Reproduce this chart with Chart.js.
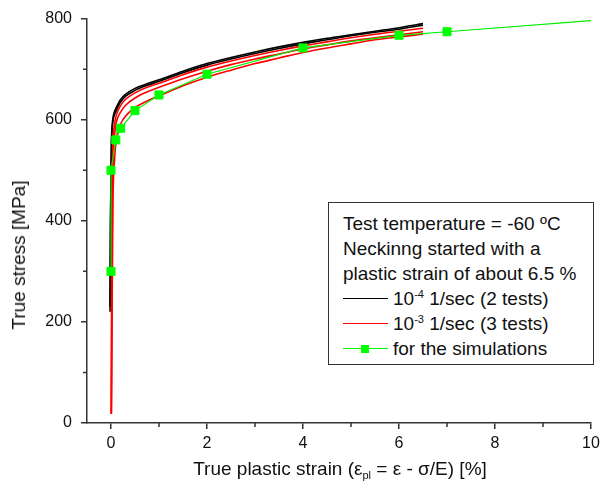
<!DOCTYPE html>
<html>
<head>
<meta charset="utf-8">
<script src="https://cdn.jsdelivr.net/npm/chart.js@4/dist/chart.umd.min.js"></script>
<style>
  html, body { margin: 0; padding: 0; background: #fff; }
  #wrap { position: relative; width: 600px; height: 485px; font-family: "Liberation Sans", Arial, sans-serif; color: #111; }
  canvas { position: absolute; left: 0; top: 0; }
  .ytitle { position: absolute; left: 19px; top: 255px; transform: translate(-50%, -50%) rotate(-90deg); white-space: nowrap; font-size: 19px; }
  .xtitle { position: absolute; left: 340px; top: 469px; transform: translate(-50%, -50%); white-space: nowrap; font-size: 19px; }
  .xtitle sub { font-size: 11px; vertical-align: -4px; line-height: 0; }
  #legend { position: absolute; left: 328px; top: 202px; width: 266px; height: 163px; border: 1px solid #333; box-sizing: border-box; background: #fff; padding: 8px 0 0 14px; font-size: 19px; line-height: 25px; white-space: nowrap; }
  #legend .row { height: 25px; display: flex; align-items: center; }
  #legend .sample { position: relative; width: 45px; height: 10px; margin-right: 5px; flex: none; }
  #legend .sample .ln { position: absolute; left: 0; right: 0; top: 4px; height: 1px; }
  #legend .sample .sq { position: absolute; left: 18px; top: 1px; width: 8px; height: 8px; background: #00ff00; }
  #legend sup { font-size: 11px; vertical-align: 7px; line-height: 0; }
</style>
</head>
<body>
<div id="wrap">
  <canvas id="c" width="600" height="485"></canvas>
  <div class="ytitle">True stress [MPa]</div>
  <div class="xtitle">True plastic strain (ε<sub>pl</sub> = ε - σ/E) [%]</div>
  <div id="legend">
    <div class="row">Test temperature = -60 ºC</div>
    <div class="row">Neckinng started with a</div>
    <div class="row">plastic strain of about 6.5 %</div>
    <div class="row"><span class="sample"><span class="ln" style="background:#000"></span></span><span>10<sup>-4</sup> 1/sec (2 tests)</span></div>
    <div class="row"><span class="sample"><span class="ln" style="background:#ff0000"></span></span><span>10<sup>-3</sup> 1/sec (3 tests)</span></div>
    <div class="row"><span class="sample"><span class="ln" style="background:#00ff00"></span><span class="sq"></span></span><span>for the simulations</span></div>
  </div>
</div>
<script>
// ---- data ----
const strainBlack1 = [-0.02, -0.01, 0, 0.01, 0.03, 0.06, 0.1, 0.15, 0.2, 0.3, 0.5, 0.75, 1, 1.5, 2, 2.5, 3, 3.5, 4, 4.5, 5, 5.5, 6, 6.5];
const stressBlack1 = [220, 400, 500, 560, 595, 612, 622, 632, 640, 650, 662, 671, 679, 696, 711, 723, 734, 744, 753, 761, 768, 775, 782, 790];
const strainBlack2 = [-0.02, -0.01, 0, 0.01, 0.03, 0.06, 0.1, 0.15, 0.2, 0.3, 0.5, 0.75, 1, 1.5, 2, 2.5, 3, 3.5, 4, 4.5, 5, 5.5, 6, 6.5];
const stressBlack2 = [230, 390, 490, 550, 588, 606, 616, 627, 635, 646, 658, 668, 676, 693, 708, 720, 731, 741, 750, 758, 766, 773, 779, 787];
const strainRed1 = [0.005, 0.015, 0.025, 0.045, 0.08, 0.12, 0.2, 0.3, 0.5, 0.75, 1, 1.5, 2, 2.5, 3, 3.5, 4, 4.5, 5, 5.5, 6, 6.5];
const stressRed1 = [18, 300, 480, 560, 595, 612, 628, 640, 653, 664, 672, 689, 704, 716, 727, 737, 746, 754, 762, 769, 775, 781];
const strainRed2 = [0.005, 0.02, 0.03, 0.05, 0.08, 0.12, 0.2, 0.3, 0.5, 0.75, 1, 1.5, 2, 2.5, 3, 3.5, 4, 4.5, 5, 5.5, 6, 6.5];
const stressRed2 = [18, 280, 440, 530, 575, 598, 615, 628, 643, 655, 664, 681, 696, 709, 720, 730, 740, 748, 756, 762, 768, 774];
const strainRed3 = [0.01, 0.025, 0.04, 0.07, 0.11, 0.17, 0.25, 0.35, 0.5, 0.75, 1, 1.5, 2, 2.5, 3, 3.5, 4, 4.5, 5, 5.5, 6, 6.5];
const stressRed3 = [18, 250, 430, 515, 560, 585, 600, 612, 624, 637, 647, 667, 684, 698, 711, 722, 733, 742, 750, 758, 764, 769];
const strainSim = [0, 0, 0.1, 0.2, 0.5, 1, 2, 4, 6, 7, 10];
const stressSim = [300, 500, 560, 583, 618, 649, 690, 742, 767, 774, 796];
const xMajorTicks = [0, 2, 4, 6, 8, 10];
const xMinorTicks = [1, 3, 5, 7, 9];
const yMajorTicks = [0, 200, 400, 600, 800];
const yMinorTicks = [100, 300, 500, 700];

const pts = (xs, ys) => xs.map((x, i) => ({ x: x, y: ys[i] }));
const FONT = { family: '"Liberation Sans", Arial, sans-serif', size: 16 };
const AXIS = '#333';

const minorTicks = {
  id: 'minorTicks',
  afterDraw(chart) {
    const ctx = chart.ctx, xs = chart.scales.x, ys = chart.scales.y;
    ctx.save();
    ctx.strokeStyle = AXIS; ctx.lineWidth = 1.5;
    ctx.beginPath();
    xMinorTicks.forEach(v => { const p = xs.getPixelForValue(v); ctx.moveTo(p, xs.top); ctx.lineTo(p, xs.top + 4); });
    yMinorTicks.forEach(v => { const p = ys.getPixelForValue(v); ctx.moveTo(ys.right, p); ctx.lineTo(ys.right - 4, p); });
    ctx.stroke();
    ctx.restore();
  }
};

const lineDs = (data, color, order) => ({
  data: data, borderColor: color, backgroundColor: color, borderWidth: 1.6,
  pointRadius: 0, cubicInterpolationMode: 'monotone', fill: false, order: order
});

new Chart(document.getElementById('c'), {
  type: 'line',
  data: {
    datasets: [
      lineDs(pts(strainBlack1, stressBlack1), '#000000', 3),
      lineDs(pts(strainBlack2, stressBlack2), '#000000', 3),
      lineDs(pts(strainRed1, stressRed1), '#ff0000', 2),
      lineDs(pts(strainRed2, stressRed2), '#ff0000', 2),
      lineDs(pts(strainRed3, stressRed3), '#ff0000', 2),
      {
        data: pts(strainSim, stressSim), borderColor: '#00ee00', backgroundColor: '#00ff00',
        borderWidth: 1.2, tension: 0, fill: false, order: 0,
        pointStyle: 'rect', pointBorderColor: '#00ff00', pointBorderWidth: 1,
        pointRadius: c => (c.dataIndex === strainSim.length - 1 ? 0 : 5.7)
      }
    ]
  },
  options: {
    responsive: false, animation: false, devicePixelRatio: 1,
    layout: { padding: { top: 17, right: 9, left: 0, bottom: 0 } },
    plugins: { legend: { display: false }, tooltip: { enabled: false } },
    scales: {
      x: {
        type: 'linear', min: -0.5, max: 10,
        afterBuildTicks: s => { s.ticks = xMajorTicks.map(v => ({ value: v })); },
        afterFit: s => { s.height = 62; s.paddingRight = 0; s.paddingLeft = 0; },
        grid: { display: true, drawOnChartArea: false, drawTicks: true, tickLength: 6, color: AXIS, lineWidth: 1.5 },
        border: { display: true, color: AXIS, width: 1.5 },
        ticks: { font: FONT, color: '#111', padding: 5, maxRotation: 0 }
      },
      y: {
        type: 'linear', min: 0, max: 800,
        afterBuildTicks: s => { s.ticks = yMajorTicks.map(v => ({ value: v })); },
        afterFit: s => { s.width = 87; },
        grid: { display: true, drawOnChartArea: false, drawTicks: true, tickLength: 6, color: AXIS, lineWidth: 1.5 },
        border: { display: true, color: AXIS, width: 1.5 },
        ticks: { font: FONT, color: '#111', padding: 9 }
      }
    }
  },
  plugins: [minorTicks]
});
</script>
</body>
</html>
